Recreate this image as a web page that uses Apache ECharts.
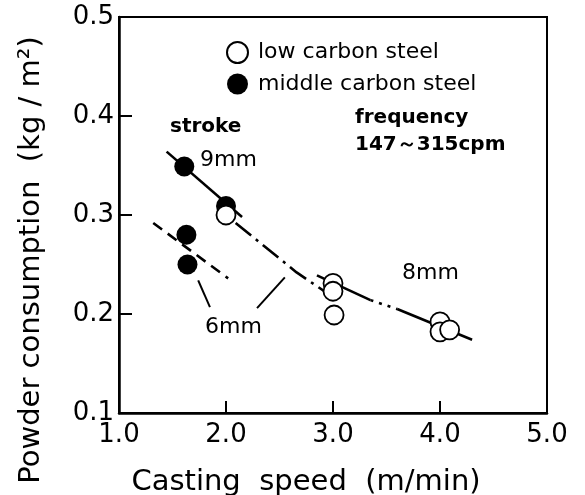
<!DOCTYPE html>
<html>
<head>
<meta charset="utf-8">
<script src="https://cdn.jsdelivr.net/npm/echarts@6/dist/echarts.min.js"></script>
<style>
html, body { margin: 0; padding: 0; background: #fff; }
#chart { width: 585px; height: 495px; }
</style>
</head>
<body>
<div id="chart"></div>
<script>
// tick labels
var xTicks = ['1.0', '2.0', '3.0', '4.0', '5.0'];
var yTicks = ['0.1', '0.2', '0.3', '0.4', '0.5'];

// measured points (casting speed, powder consumption)
var lowCarbon = [[2.0, 0.300], [3.0, 0.231], [3.0, 0.223], [3.01, 0.199], [4.0, 0.192], [4.0, 0.182], [4.09, 0.184]];
var middleCarbon = [[1.61, 0.349], [2.0, 0.309], [1.63, 0.280], [1.64, 0.250]];

// fitted curves per stroke
var stroke9Solid = [[1.445, 0.364], [2.15, 0.298]];
var stroke9DashDot = [[2.09, 0.292], [2.66, 0.242], [3.0, 0.217]];
var stroke8a = [[2.85, 0.239], [3.35, 0.214]];
var stroke8b = [[3.35, 0.214], [3.6, 0.205]];
var stroke8c = [[3.6, 0.205], [4.3, 0.174]];
var stroke6 = [[1.32, 0.292], [2.02, 0.236]];
// leader lines for the "6mm" label
var leader6a = [[1.74, 0.234], [1.85, 0.207]];
var leader6b = [[2.55, 0.237], [2.29, 0.206]];

var FONT = "'DejaVu Sans', sans-serif";

function curve(data, dash, w) {
	return {
		type: 'line',
		data: data,
		symbol: 'none',
		silent: true,
		z: 2,
		lineStyle: { color: '#000', width: w || 2.6, type: dash || 'solid' }
	};
}

function label(txt, x, y, size, weight) {
	return {
		type: 'text',
		x: x,
		y: y,
		z: 10,
		style: {
			text: txt,
			fill: '#000',
			font: (weight || 'normal') + ' ' + size + 'px ' + FONT,
			align: 'left',
			verticalAlign: 'middle'
		}
	};
}

var myChart = echarts.init(document.getElementById('chart'));
var option = {
	animation: false,
	backgroundColor: '#fff',
	grid: {
		left: 119, top: 17, right: 38, bottom: 82,
		show: true, borderColor: '#000', borderWidth: 2
	},
	legend: {
		orient: 'vertical',
		left: 221,
		top: 36,
		itemWidth: 21,
		itemHeight: 21,
		itemGap: 9,
		selectedMode: false,
		icon: 'circle',
		textStyle: { fontSize: 22, fontFamily: FONT, color: '#000', padding: [0, 0, 0, 5] },
		data: ['low carbon steel', 'middle carbon steel']
	},
	xAxis: {
		type: 'value',
		min: 1, max: 5, interval: 1,
		axisLine: { lineStyle: { color: '#000', width: 2.5 } },
		axisTick: { inside: true, length: 12, lineStyle: { color: '#000', width: 2 } },
		splitLine: { show: false },
		axisLabel: {
			margin: 9, fontSize: 26, fontFamily: FONT, color: '#000',
			formatter: function (v) { return xTicks[Math.round(v - 1)]; }
		}
	},
	yAxis: {
		type: 'value',
		min: 0.1, max: 0.5, interval: 0.1,
		axisLine: { lineStyle: { color: '#000', width: 2.5 } },
		axisTick: { inside: true, length: 13, lineStyle: { color: '#000', width: 2 } },
		splitLine: { show: false },
		axisLabel: {
			margin: 5, fontSize: 26, fontFamily: FONT, color: '#000',
			formatter: function (v) { return yTicks[Math.round((v - 0.1) * 10)]; }
		}
	},
	graphic: [
		label('stroke', 170, 127, 20, 'bold'),
		label('9mm', 200, 160, 22),
		label('frequency', 355, 118, 20, 'bold'),
		label('147～315cpm', 355, 145, 20, 'bold'),
		label('8mm', 402, 273, 22),
		label('6mm', 205, 327, 22),
		{
			type: 'text', x: 306, y: 482, z: 10,
			style: { text: 'Casting  speed  (m/min)', fill: '#000', font: '29px ' + FONT, align: 'center', verticalAlign: 'middle' }
		},
		{
			type: 'text', x: 31, y: 260, z: 10, rotation: Math.PI / 2,
			style: { text: 'Powder consumption  (kg / m²)', fill: '#000', font: '29px ' + FONT, align: 'center', verticalAlign: 'middle' }
		}
	],
	series: [
		curve(stroke9Solid),
		curve(stroke9DashDot, [20, 6, 3, 6]),
		curve(stroke8a),
		curve(stroke8b, [3, 6]),
		curve(stroke8c),
		curve(stroke6, [11, 7]),
		curve(leader6a, 'solid', 2),
		curve(leader6b, 'solid', 2),
		{
			name: 'middle carbon steel',
			type: 'scatter',
			data: middleCarbon,
			symbol: 'circle',
			symbolSize: 20,
			z: 4,
			itemStyle: { color: '#000', opacity: 1 }
		},
		{
			name: 'low carbon steel',
			type: 'scatter',
			data: lowCarbon,
			symbol: 'circle',
			symbolSize: 19,
			z: 5,
			itemStyle: { color: '#fff', borderColor: '#000', borderWidth: 1.8, opacity: 1 }
		}
	]
};
myChart.setOption(option);
</script>
</body>
</html>
